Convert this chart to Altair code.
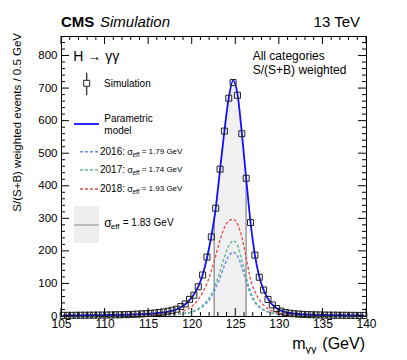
import altair as alt
import pandas as pd

FONT = "Liberation Sans"
W, H = 305, 280

# bin centres (GeV), 0.5 GeV bins
mass = [105.25, 105.75, 106.25, 106.75, 107.25, 107.75, 108.25, 108.75, 109.25, 109.75,
        110.25, 110.75, 111.25, 111.75, 112.25, 112.75, 113.25, 113.75, 114.25, 114.75,
        115.25, 115.75, 116.25, 116.75, 117.25, 117.75, 118.25, 118.75, 119.25, 119.75,
        120.25, 120.75, 121.25, 121.75, 122.25, 122.75, 123.25, 123.75, 124.25, 124.75,
        125.25, 125.75, 126.25, 126.75, 127.25, 127.75, 128.25, 128.75, 129.25, 129.75,
        130.25, 130.75, 131.25, 131.75, 132.25, 132.75, 133.25, 133.75, 134.25, 134.75,
        135.25, 135.75, 136.25, 136.75, 137.25, 137.75, 138.25, 138.75, 139.25, 139.75]

sim = [2.0, 2.1, 2.0, 2.2, 2.3, 2.4, 2.5, 2.6, 2.8, 2.9,
       3.1, 3.3, 3.6, 3.8, 4.2, 4.6, 5.1, 5.7, 6.4, 7.2,
       8.1, 9.3, 10.8, 12.5, 14.8, 17.5, 21, 29, 37, 51,
       64, 90, 126, 181, 243, 331, 451, 568, 669, 717,
       678, 560, 423, 287, 187, 119, 80, 51, 34, 23,
       15, 11, 8.6, 7.0, 5.9, 5.0, 4.4, 3.9, 3.5, 3.2,
       2.9, 2.7, 2.5, 2.4, 2.2, 2.1, 2.0, 1.9, 1.8, 1.7]

model = [1.8, 1.9, 2.0, 2.1, 2.2, 2.3, 2.4, 2.5, 2.6, 2.7,
         2.9, 3.1, 3.3, 3.6, 3.9, 4.3, 4.7, 5.2, 5.8, 6.5,
         7.3, 8.3, 9.5, 11, 13, 16, 20, 27, 36, 49,
         66, 90, 126, 178, 245, 330, 450, 568, 670, 724,
         682, 563, 422, 288, 188, 121, 80, 53, 35, 24,
         16.5, 12, 9.2, 7.4, 6.2, 5.3, 4.6, 4.1, 3.6, 3.3,
         3.0, 2.8, 2.6, 2.4, 2.3, 2.1, 2.0, 1.9, 1.8, 1.7]

y2016 = [0.38, 0.4, 0.43, 0.45, 0.48, 0.5, 0.52, 0.55, 0.57, 0.59,
         0.64, 0.69, 0.74, 0.81, 0.88, 0.98, 1.08, 1.2, 1.35, 1.5,
         1.7, 1.9, 2.2, 2.6, 3.0, 3.6, 4.5, 6.3, 8.5, 10,
         14, 20, 28, 41, 59, 85, 118, 154, 184, 196,
         185, 150, 106, 66, 41, 27, 18, 12.5, 8.6, 6,
         4.3, 3.2, 2.5, 2.0, 1.65, 1.4, 1.2, 1.05, 0.95, 0.85,
         0.75, 0.68, 0.62, 0.56, 0.52, 0.48, 0.45, 0.42, 0.4, 0.38]

y2017 = [0.42, 0.45, 0.47, 0.5, 0.52, 0.55, 0.58, 0.6, 0.63, 0.66,
         0.71, 0.76, 0.81, 0.89, 0.97, 1.07, 1.17, 1.3, 1.45, 1.6,
         1.8, 2.1, 2.4, 2.7, 3.2, 4.0, 5.0, 6.7, 9, 11,
         15.5, 22, 32, 47, 68, 98, 137, 180, 216, 231,
         217, 172, 120, 75, 46, 30, 20, 13.5, 9.3, 6.5,
         4.7, 3.5, 2.7, 2.2, 1.8, 1.5, 1.3, 1.15, 1.0, 0.9,
         0.8, 0.72, 0.66, 0.6, 0.57, 0.52, 0.5, 0.47, 0.45, 0.42]

y2018 = [1.0, 1.05, 1.1, 1.15, 1.2, 1.25, 1.3, 1.35, 1.4, 1.45,
         1.55, 1.65, 1.75, 1.9, 2.05, 2.25, 2.45, 2.7, 3.0, 3.4,
         3.8, 4.3, 4.8, 5.6, 6.6, 8.0, 10, 13, 17.5, 24,
         35, 51, 72, 100, 138, 185, 233, 272, 292, 297,
         283, 243, 180, 113, 75, 50, 34, 22, 15, 10.5,
         7.5, 5.6, 4.4, 3.6, 3.0, 2.6, 2.3, 2.05, 1.85, 1.7,
         1.55, 1.45, 1.35, 1.25, 1.2, 1.1, 1.05, 1.0, 0.95, 0.9]

# sigma_eff band edges and curve height there
band_edges = [122.58, 126.24]
band_tops = [300, 425]

x_major = [105, 110, 115, 120, 125, 130, 135, 140]
x_minor = [m for m in range(106, 140) if m % 5 != 0]
y_major = [0, 100, 200, 300, 400, 500, 600, 700, 800]
y_minor = [v for v in range(20, 860, 20) if v % 100 != 0]

year_names = ["2016", "2017", "2018"]
year_colors = ["#6a8ee0", "#5fb896", "#e0524f"]
year_labels = ["= 1.79 GeV", "= 1.74 GeV", "= 1.93 GeV"]

xs = alt.Scale(domain=[105, 140], nice=False, zero=False)
ys = alt.Scale(domain=[0, 860], nice=False, zero=False)
xax = alt.Axis(values=x_major, labelFontSize=12, labelFont=FONT, labelColor="black",
               ticks=False, domain=False, grid=False, labelPadding=2, labelFlush=False,
               labelOverlap=False, title=None, format="d")
yax = alt.Axis(values=y_major, labelFontSize=11.5, labelFont=FONT, labelColor="black",
               ticks=False, domain=False, grid=False, labelPadding=4, labelFlush=False,
               labelOverlap=False, title=None, format="d")

df = pd.DataFrame({"m": mass, "sim": sim, "model": model,
                   "2016": y2016, "2017": y2017, "2018": y2018})
years = df.melt(id_vars="m", value_vars=year_names, var_name="yr", value_name="v")

inside = df[(df.m > band_edges[0]) & (df.m < band_edges[1])][["m", "model"]].rename(columns={"model": "v"})
band_df = pd.concat([pd.DataFrame({"m": band_edges, "v": band_tops}), inside]).sort_values("m")
edge_df = pd.DataFrame({"m": band_edges, "v": band_tops})

X = lambda f: alt.X(f, type="quantitative", scale=xs, axis=xax)
Y = lambda f: alt.Y(f, type="quantitative", scale=ys, axis=yax)

area = alt.Chart(band_df).mark_area(color="#f0f0f0", interpolate="monotone").encode(x=X("m"), y=Y("v"))
edges = alt.Chart(edge_df).mark_rule(color="#9a9a9a", strokeWidth=1.5).encode(
    x=X("m"), y=Y("v"), y2=alt.datum(0))
yr_lines = alt.Chart(years).mark_line(strokeDash=[3, 2], strokeWidth=1.4, interpolate="monotone").encode(
    x=X("m"), y=Y("v"),
    color=alt.Color("yr:N", scale=alt.Scale(domain=year_names, range=year_colors), legend=None))
model_line = alt.Chart(df).mark_line(color="#1010ff", strokeWidth=1.8, interpolate="monotone").encode(
    x=X("m"), y=Y("model"))
pts = alt.Chart(df).mark_point(shape="square", size=36, filled=False, color="#222222",
                               strokeWidth=1, opacity=1).encode(x=X("m"), y=Y("sim"))

# ticks on four sides (pointing inward)
def xticks(vals, L):
    d = pd.DataFrame({"m": vals})
    b = alt.Chart(d).mark_rule(color="black", strokeWidth=1).encode(x=X("m"), y=alt.value(H), y2=alt.value(H - L))
    t = alt.Chart(d).mark_rule(color="black", strokeWidth=1).encode(x=X("m"), y=alt.value(0), y2=alt.value(L))
    return [b, t]

def yticks(vals, L):
    d = pd.DataFrame({"v": vals})
    l = alt.Chart(d).mark_rule(color="black", strokeWidth=1).encode(y=Y("v"), x=alt.value(0), x2=alt.value(L))
    r = alt.Chart(d).mark_rule(color="black", strokeWidth=1).encode(y=Y("v"), x=alt.value(W), x2=alt.value(W - L))
    return [l, r]

ticks = xticks(x_major, 8) + xticks(x_minor, 4) + yticks(y_major, 8) + yticks(y_minor, 4)

one = pd.DataFrame({"k": [0]})

def txt(s, x, y, size, align="left", baseline="middle", weight="normal", style="normal", angle=0, color="black"):
    return alt.Chart(pd.DataFrame({"t": [s]})).mark_text(
        font=FONT, fontSize=size, align=align, baseline=baseline, fontWeight=weight,
        fontStyle=style, angle=angle, color=color).encode(
        x=alt.value(x), y=alt.value(y), text="t:N")

def hrule(x1, x2, y, color, width=1.5, dash=None):
    kw = dict(color=color, strokeWidth=width)
    if dash:
        kw["strokeDash"] = dash
    return alt.Chart(one).mark_rule(**kw).encode(x=alt.value(x1), x2=alt.value(x2), y=alt.value(y))

texts = [
    txt("CMS", 0, -9, 15, baseline="alphabetic", weight="bold"),
    txt("Simulation", 39, -9, 15, baseline="alphabetic", style="italic"),
    txt("13 TeV", 299, -9, 15, align="right", baseline="alphabetic"),
    txt("H \u2192 \u03b3\u03b3", 12.3, 25, 14, baseline="alphabetic"),
    txt("All categories", 191.7, 23.5, 12, baseline="alphabetic"),
    txt("S/(S+B) weighted", 191.7, 38, 12, baseline="alphabetic"),
    txt("Simulation", 43, 48.3, 10),
    txt("Parametric", 43.3, 83, 10),
    txt("model", 43.3, 94.7, 10),
    txt("\u03c3", 43.3, 186.7, 12),
    txt("eff", 49.7, 191, 8),
    txt("= 1.83 GeV", 61.7, 186.7, 10),
    txt("S/(S+B) weighted events / 0.5 GeV", -43, -3, 11.5, align="right", angle=270),
    txt("m", 231.3, 313.3, 16, baseline="alphabetic"),
    txt("\u03b3\u03b3", 244.5, 316.5, 11, baseline="alphabetic"),
    txt("(GeV)", 304, 313.3, 16, align="right", baseline="alphabetic"),
]

legend_rows = [115.7, 134, 153]
leg = []
for name, col, lab, yy in zip(year_names, year_colors, year_labels, legend_rows):
    leg.append(hrule(19, 37, yy, col, 1.4, [3, 2]))
    leg.append(txt(name + ":", 39, yy, 10))
    leg.append(txt("\u03c3", 66.3, yy, 9))
    leg.append(txt("eff", 71.5, yy + 2.8, 6.5))
    leg.append(txt(lab, 80.7, yy, 8))

leg += [
    alt.Chart(one).mark_rule(color="#222222", strokeWidth=1.2).encode(
        x=alt.value(25.7), y=alt.value(36.7), y2=alt.value(59)),
    alt.Chart(one).mark_point(shape="square", size=36, filled=True, fill="white",
                              stroke="#222222", strokeWidth=1, opacity=1).encode(
        x=alt.value(25.7), y=alt.value(47.3)),
    hrule(13, 38, 88, "#1010ff", 1.8),
    alt.Chart(one).mark_rect(color="#eeeeee").encode(
        x=alt.value(13), x2=alt.value(38), y=alt.value(170), y2=alt.value(207)),
    hrule(13, 38, 189, "#aaaaaa", 1.5),
]

chart = alt.layer(area, edges, yr_lines, model_line, pts, *ticks, *leg, *texts).properties(
    width=W, height=H,
    autosize=alt.AutoSizeParams(type="none"),
    padding={"left": 53, "top": 28, "right": 33, "bottom": 38},
).configure_view(stroke="black", strokeWidth=1)

chart.save("out.html", embed_options={"renderer": "svg", "actions": False})
